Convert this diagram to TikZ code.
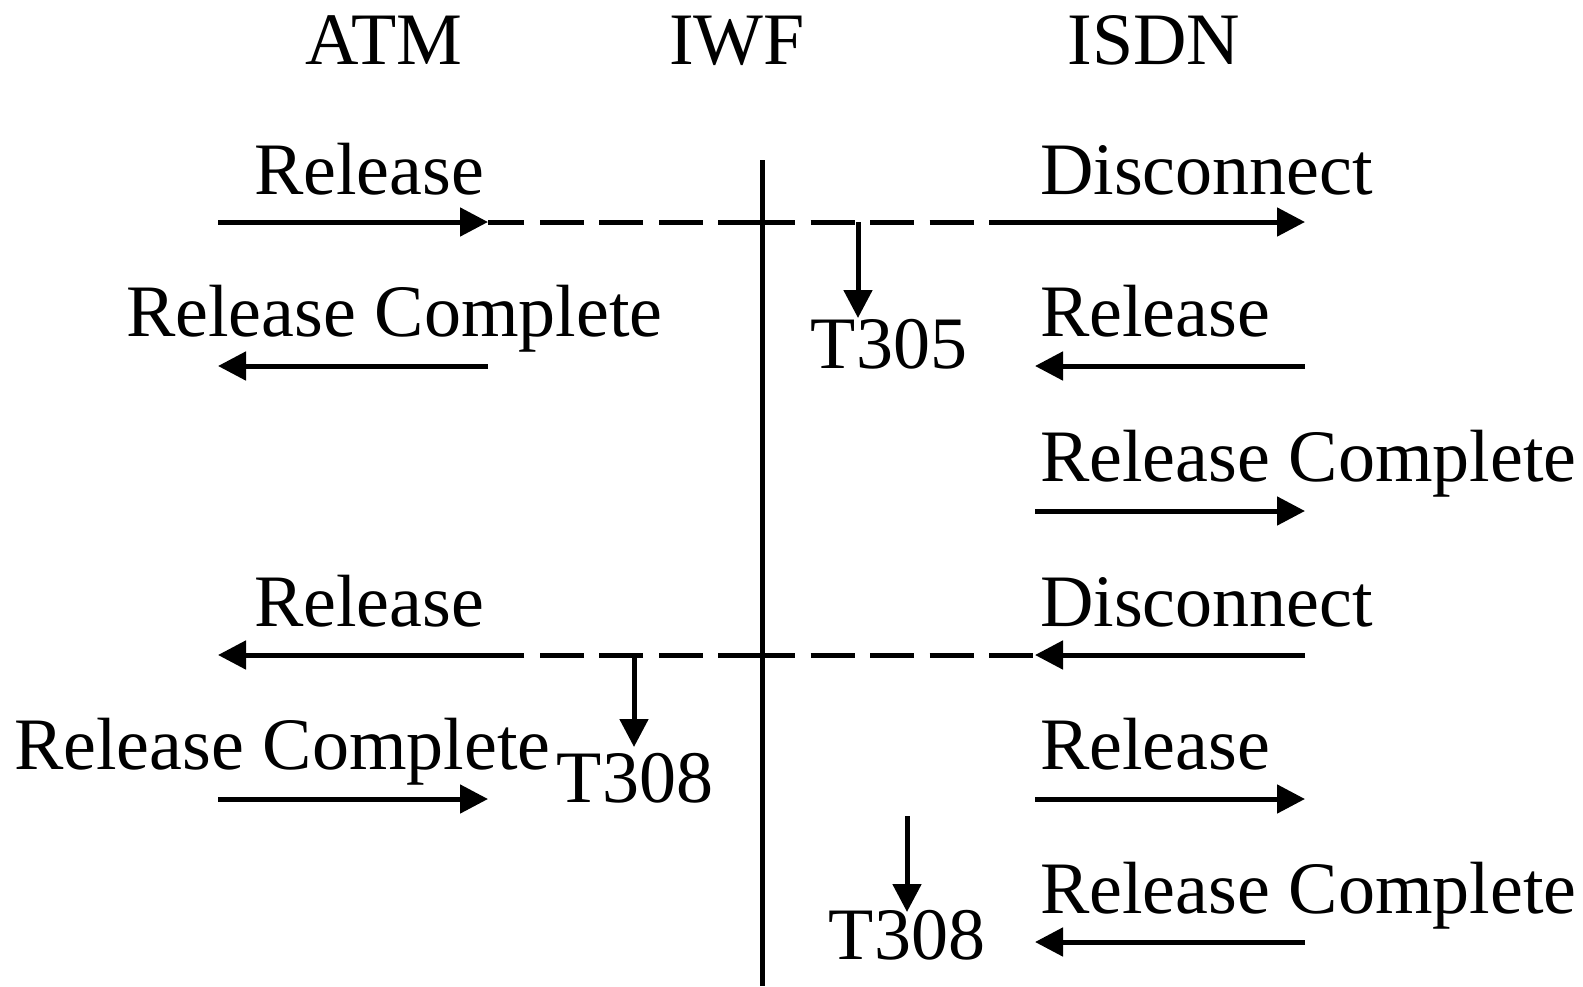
\documentclass[tikz,border=0pt]{standalone}
\usepackage{fontspec}
\setmainfont{Liberation Serif}
\usetikzlibrary{arrows.meta}
\begin{document}
\begin{tikzpicture}[x=1pt,y=-1pt,
  lbl/.style={inner sep=0pt,font=\fontsize{74}{88}\selectfont},
  msg/.style={line width=5pt,-{Triangle[length=28pt,width=28pt]}},
  link/.style={line width=5pt,dash pattern=on 44pt off 15.5pt},
  linkout/.style={link,dash phase=11pt},
  bar/.style={line width=5pt}]
\useasboundingbox (0,0) rectangle (1583,986);

% column headers
\node[lbl,anchor=base] (atm)  at (384,64) {ATM};
\node[lbl,anchor=base] (iwf)  at (737,64) {IWF};
\node[lbl,anchor=base] (isdn) at (1154,64) {ISDN};

% interworking function time line
\coordinate (iwftop) at (762,160);
\coordinate (iwfbot) at (762,986);
\draw[bar] (iwftop) -- (iwfbot);

% message end points
\foreach \r/\y in {1/222,2/366,3/511,4/655,5/799,6/942}{
  \coordinate (aL\r) at (218,\y);
  \coordinate (aR\r) at (488,\y);
  \coordinate (iL\r) at (1035,\y);
  \coordinate (iR\r) at (1305,\y);
}
\coordinate (x1) at (762,222);
\coordinate (x4) at (762,655);
\coordinate (d1) at (989,222);
\coordinate (d4) at (523,655);

% message labels
\node[lbl,anchor=base west] (m1a) at (254,194) {Release};
\node[lbl,anchor=base west] (m1i) at (1040,194) {Disconnect};
\node[lbl,anchor=base west] (m2a) at (126,336) {Release Complete};
\node[lbl,anchor=base west] (m2i) at (1040,336) {Release};
\node[lbl,anchor=base west] (m3i) at (1040,481) {Release Complete};
\node[lbl,anchor=base west] (m4a) at (254,626) {Release};
\node[lbl,anchor=base west] (m4i) at (1040,626) {Disconnect};
\node[lbl,anchor=base west] (m5a) at (14,769) {Release Complete};
\node[lbl,anchor=base west] (m5i) at (1040,769) {Release};
\node[lbl,anchor=base west] (m6i) at (1040,913) {Release Complete};

% timers
\node[lbl,anchor=base] (t305)  at (889,368) {T305};
\node[lbl,anchor=base] (t308a) at (635,802) {T308};
\node[lbl,anchor=base] (t308b) at (907,959) {T308};
\coordinate (t305s)  at (858,222);
\coordinate (t305e)  at (858,318);
\coordinate (t308as) at (634,655);
\coordinate (t308ae) at (634,747);
\coordinate (t308bs) at (907,816);
\coordinate (t308be) at (907,912);

% messages
\draw[msg] (aL1) -- (aR1);
\draw[link] (x1) -- (aR1);
\draw[linkout] (x1) -- (d1);
\draw[msg] (d1) -- (iR1);
\draw[msg] (aR2) -- (aL2);
\draw[msg] (iR2) -- (iL2);
\draw[msg] (iL3) -- (iR3);
\draw[msg] (iR4) -- (iL4);
\draw[link] (x4) -- (d4);
\draw[linkout] (x4) -- (iL4);
\draw[msg] (d4) -- (aL4);
\draw[msg] (aL5) -- (aR5);
\draw[msg] (iL5) -- (iR5);
\draw[msg] (iR6) -- (iL6);

% timer arrows
\draw[msg] (t305s) -- (t305e);
\draw[msg] (t308as) -- (t308ae);
\draw[msg] (t308bs) -- (t308be);
\end{tikzpicture}
\end{document}
